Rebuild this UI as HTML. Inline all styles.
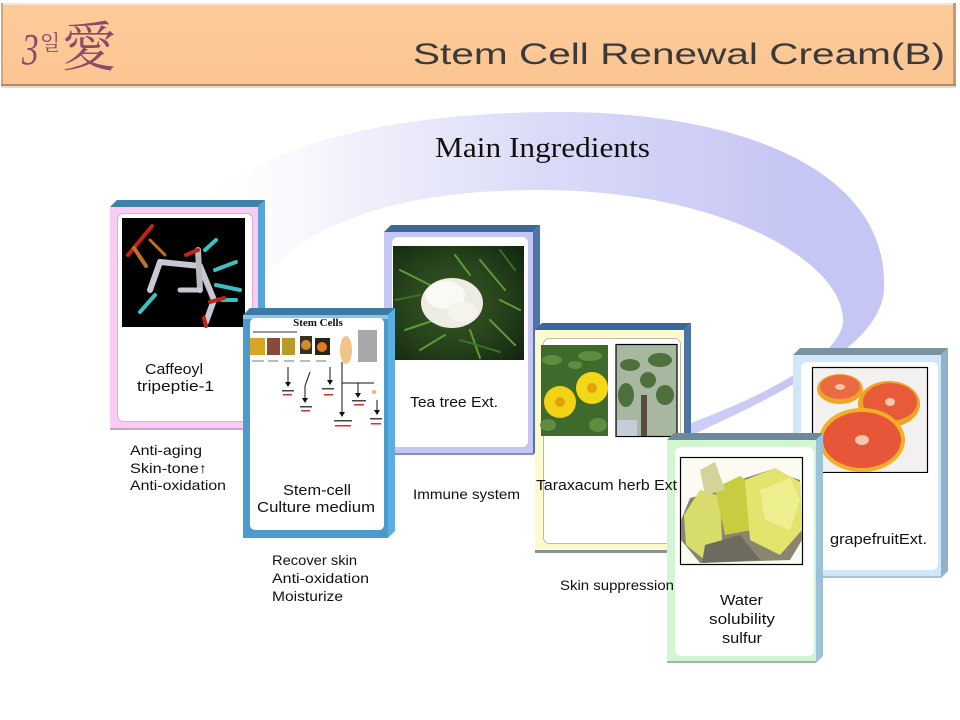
<!DOCTYPE html>
<html>
<head>
<meta charset="utf-8">
<style>
html,body{margin:0;padding:0;background:#fff;}
svg{display:block;font-family:"Liberation Sans","Noto Sans CJK KR",sans-serif;}
</style>
</head>
<body>
<svg width="960" height="720" viewBox="0 0 960 720" xmlns="http://www.w3.org/2000/svg">
<defs>
  <linearGradient id="arcg" gradientUnits="userSpaceOnUse" x1="190" y1="0" x2="790" y2="0">
    <stop offset="0" stop-color="#ffffff" stop-opacity="0"/>
    <stop offset="0.25" stop-color="#f2f2fc"/>
    <stop offset="0.6" stop-color="#dadaf8"/>
    <stop offset="1" stop-color="#c6c6f4"/>
  </linearGradient>
  <linearGradient id="hdr" x1="0" y1="0" x2="0" y2="1">
    <stop offset="0" stop-color="#fdcb9a"/>
    <stop offset="1" stop-color="#fcc592"/>
  </linearGradient>
  <radialGradient id="tea" cx="0.45" cy="0.5" r="0.7">
    <stop offset="0" stop-color="#3a5a26"/>
    <stop offset="0.6" stop-color="#24401a"/>
    <stop offset="1" stop-color="#142810"/>
  </radialGradient>
</defs>

<rect width="960" height="720" fill="#ffffff"/>

<!-- Header -->
<rect x="1" y="3" width="955" height="83" fill="url(#hdr)"/>
<rect x="1" y="3" width="955" height="2" fill="#fde6cc"/>
<rect x="1" y="3" width="2" height="83" fill="#d9a57b"/>
<rect x="953" y="3" width="3" height="83" fill="#c99a72"/>
<rect x="1" y="84" width="955" height="2" fill="#b48866"/>
<rect x="1" y="86" width="955" height="2" fill="#eadbd0"/>
<text x="22" y="64" font-family="Liberation Serif, serif" font-style="italic" font-size="44" fill="#8a4a6a" transform="translate(22 64) scale(0.75 1) translate(-22 -64)">3</text>
<text x="40" y="50" font-family="Noto Serif CJK KR, Noto Sans CJK KR, sans-serif" font-size="21" fill="#8a4a6a">일</text>
<text x="62" y="66" font-family="Noto Serif CJK SC, Noto Sans CJK SC, serif" font-size="54" fill="#8a4a6a">愛</text>
<text x="413" y="64" font-size="30" fill="#3a3a3a" textLength="532" lengthAdjust="spacingAndGlyphs">Stem Cell Renewal Cream(B)</text>

<!-- Swoosh arc -->
<path d="M 180,230 C 230,150 380,112 560,112 C 740,112 886,170 884,285 C 886,340 800,385 690,436 L 688,424 C 780,390 846,350 843,318 C 840,260 720,190 540,190 C 400,190 300,222 255,290 Z" fill="url(#arcg)"/>

<text x="435" y="157" font-family="Liberation Serif, serif" font-size="29" fill="#111" textLength="215" lengthAdjust="spacingAndGlyphs">Main Ingredients</text>

<!-- Card 1: Caffeoyl -->
<polygon points="117,200 265,200 258,207 110,207" fill="#3f82a8"/>
<polygon points="265,200 265,423 258,430 258,207" fill="#55a6d6"/>
<rect x="110" y="207" width="148" height="223" fill="#f9ccf3"/>
<rect x="110" y="428" width="148" height="2" fill="#c9a5c4"/>
<rect x="117.5" y="213.5" width="135" height="208" rx="6" fill="#fff" stroke="#d8aed4" stroke-width="1"/>
<rect x="122" y="218" width="123" height="109" fill="#000"/>
<g stroke-linecap="round" fill="none">
  <line x1="128" y1="255" x2="152" y2="226" stroke="#c02414" stroke-width="4"/>
  <line x1="134" y1="248" x2="146" y2="266" stroke="#c07022" stroke-width="4"/>
  <line x1="150" y1="240" x2="165" y2="255" stroke="#c07022" stroke-width="3"/>
  <line x1="160" y1="262" x2="200" y2="266" stroke="#c8c8d2" stroke-width="6"/>
  <line x1="160" y1="262" x2="150" y2="290" stroke="#c8c8d2" stroke-width="6"/>
  <line x1="200" y1="266" x2="214" y2="300" stroke="#c8c8d2" stroke-width="6"/>
  <line x1="214" y1="300" x2="206" y2="322" stroke="#c8c8d2" stroke-width="6"/>
  <line x1="198" y1="250" x2="200" y2="290" stroke="#b8b8c2" stroke-width="6"/>
  <line x1="180" y1="290" x2="200" y2="290" stroke="#c8c8d2" stroke-width="5"/>
  <line x1="140" y1="312" x2="155" y2="295" stroke="#3cc0c0" stroke-width="4"/>
  <line x1="215" y1="270" x2="236" y2="262" stroke="#3cc0c0" stroke-width="4"/>
  <line x1="216" y1="285" x2="240" y2="290" stroke="#3cc0c0" stroke-width="4"/>
  <line x1="222" y1="300" x2="236" y2="300" stroke="#3cc0c0" stroke-width="4"/>
  <line x1="205" y1="250" x2="216" y2="240" stroke="#3cc0c0" stroke-width="4"/>
  <line x1="186" y1="255" x2="198" y2="250" stroke="#c02414" stroke-width="4"/>
  <line x1="210" y1="302" x2="224" y2="298" stroke="#c02414" stroke-width="4"/>
  <line x1="204" y1="318" x2="206" y2="326" stroke="#c02414" stroke-width="4"/>
</g>
<text x="145" y="374" font-size="15" fill="#111" textLength="58" lengthAdjust="spacingAndGlyphs">Caffeoyl</text>
<text x="137" y="391" font-size="15" fill="#111" textLength="77" lengthAdjust="spacingAndGlyphs">tripeptie-1</text>

<!-- Card 3: Tea tree -->
<polygon points="391,225 540,225 533,232 384,232" fill="#3a6899"/>
<polygon points="540,225 540,448 533,455 533,232" fill="#4c76aa"/>
<rect x="384" y="232" width="149" height="223" fill="#c6c6f4"/>
<rect x="384" y="453" width="149" height="2" fill="#8c8cc0"/>
<rect x="392" y="237" width="136" height="210" rx="6" fill="#fff"/>
<rect x="393" y="246" width="131" height="114" fill="url(#tea)"/>
<g stroke="#5c9a3a" stroke-width="2" stroke-linecap="round">
  <line x1="400" y1="270" x2="430" y2="285"/>
  <line x1="480" y1="260" x2="505" y2="290"/>
  <line x1="490" y1="320" x2="515" y2="345"/>
  <line x1="470" y1="330" x2="480" y2="358"/>
  <line x1="405" y1="330" x2="435" y2="320"/>
  <line x1="500" y1="300" x2="520" y2="310"/>
  <line x1="420" y1="350" x2="445" y2="335"/>
  <line x1="455" y1="255" x2="470" y2="275"/>
</g>
<g stroke="#3a7028" stroke-width="2" stroke-linecap="round">
  <line x1="395" y1="300" x2="420" y2="295"/>
  <line x1="500" y1="250" x2="515" y2="270"/>
  <line x1="460" y1="340" x2="500" y2="352"/>
</g>
<ellipse cx="452" cy="303" rx="31" ry="25" fill="#ecece2"/>
<ellipse cx="445" cy="295" rx="20" ry="14" fill="#fafaf4"/>
<ellipse cx="462" cy="312" rx="15" ry="10" fill="#f4f4ea"/>
<text x="410" y="407" font-size="15" fill="#111" textLength="88" lengthAdjust="spacingAndGlyphs">Tea tree Ext.</text>

<!-- Card 2: Stem cell -->
<polygon points="250,308 395,308 388,315 243,315" fill="#3c7aa3"/>
<polygon points="395,308 395,531 388,538 388,315" fill="#5aaee0"/>
<rect x="243" y="315" width="145" height="223" fill="#4b9ccc"/>
<rect x="243" y="315" width="145" height="4" fill="#8cc6e6"/>
<rect x="250" y="318" width="134" height="212" rx="5" fill="#fff"/>
<text x="318" y="326" text-anchor="middle" font-family="Liberation Serif, serif" font-weight="bold" font-size="11" fill="#111">Stem Cells</text>
<rect x="253" y="331" width="44" height="2" fill="#999"/>
<rect x="250" y="338" width="15" height="17" fill="#d9a424"/>
<rect x="267" y="338" width="13" height="17" fill="#8a4a3a"/>
<rect x="282" y="338" width="13" height="17" fill="#b89a2a"/>
<rect x="300" y="336" width="12" height="18" fill="#3a3020"/>
<circle cx="306" cy="345" r="5" fill="#d08a30"/>
<rect x="315" y="338" width="15" height="17" fill="#2a2418"/>
<circle cx="322" cy="347" r="5" fill="#e07a28"/>
<ellipse cx="346" cy="350" rx="6" ry="14" fill="#f0c488"/>
<rect x="358" y="330" width="19" height="32" fill="#a8a8a8"/>
<g fill="#bbb">
  <rect x="252" y="360" width="12" height="2"/><rect x="268" y="360" width="10" height="2"/><rect x="284" y="360" width="10" height="2"/>
  <rect x="300" y="360" width="10" height="2"/><rect x="316" y="360" width="10" height="2"/>
</g>
<g stroke="#111" stroke-width="1" fill="none">
  <line x1="288" y1="367" x2="288" y2="382"/>
  <line x1="310" y1="372" x2="305" y2="386"/><line x1="305" y1="386" x2="305" y2="398"/>
  <line x1="330" y1="367" x2="330" y2="380"/>
  <line x1="342" y1="362" x2="342" y2="412"/>
  <line x1="342" y1="383" x2="374" y2="383"/>
  <line x1="358" y1="383" x2="358" y2="393"/>
  <line x1="377" y1="400" x2="377" y2="410"/>
</g>
<g fill="#111">
  <polygon points="285,382 291,382 288,387"/>
  <polygon points="302,398 308,398 305,403"/>
  <polygon points="327,380 333,380 330,385"/>
  <polygon points="339,412 345,412 342,417"/>
  <polygon points="355,393 361,393 358,398"/>
  <polygon points="374,410 380,410 377,415"/>
</g>
<g fill="#444">
  <rect x="282" y="390" width="12" height="1.5"/><rect x="300" y="406" width="12" height="1.5"/>
  <rect x="322" y="388" width="12" height="1.5"/><rect x="334" y="420" width="18" height="1.5"/>
  <rect x="352" y="400" width="14" height="1.5"/><rect x="370" y="418" width="12" height="1.5"/>
</g>
<g fill="#d83030">
  <rect x="283" y="394" width="9" height="1.5"/><rect x="301" y="410" width="9" height="1.5"/>
  <rect x="324" y="394" width="9" height="1.5"/><rect x="335" y="425" width="16" height="1.5"/>
  <rect x="354" y="404" width="10" height="1.5"/><rect x="371" y="423" width="10" height="1.5"/>
</g>
<circle cx="374" cy="392" r="2" fill="#f0b070"/>
<text x="283" y="495" font-size="15" fill="#111" textLength="68" lengthAdjust="spacingAndGlyphs">Stem-cell</text>
<text x="257" y="512" font-size="15" fill="#111" textLength="118" lengthAdjust="spacingAndGlyphs">Culture medium</text>

<!-- Card 4: Taraxacum -->
<polygon points="542,323 691,323 684,330 535,330" fill="#3a6899"/>
<polygon points="691,323 691,545 684,552 684,330" fill="#4a74a8"/>
<rect x="535" y="330" width="149" height="222" fill="#fdfbcd"/>
<rect x="535" y="550" width="149" height="3" fill="#8a9494"/>
<rect x="543.5" y="338.5" width="137" height="205" rx="6" fill="#fff" stroke="#a8a898" stroke-width="0.8"/>
<rect x="541" y="345" width="67" height="91" fill="#3f6a2c"/>
<g fill="#5e8c42">
  <ellipse cx="552" cy="360" rx="10" ry="5"/><ellipse cx="590" cy="356" rx="12" ry="5"/>
  <ellipse cx="548" cy="425" rx="8" ry="6"/><ellipse cx="598" cy="425" rx="9" ry="7"/>
  <ellipse cx="575" cy="365" rx="7" ry="4"/>
</g>
<circle cx="560" cy="402" r="16" fill="#f2d214"/>
<circle cx="560" cy="402" r="5" fill="#e0a408"/>
<circle cx="592" cy="388" r="16" fill="#f4d818"/>
<circle cx="592" cy="388" r="5" fill="#e0a408"/>
<rect x="616" y="344.5" width="61" height="92" fill="#a8b8a0" stroke="#000" stroke-width="1.2"/>
<g fill="#4e703c">
  <ellipse cx="630" cy="365" rx="10" ry="6"/><ellipse cx="660" cy="360" rx="12" ry="7"/>
  <ellipse cx="626" cy="395" rx="8" ry="12"/><ellipse cx="665" cy="395" rx="9" ry="10"/>
  <ellipse cx="648" cy="380" rx="8" ry="8"/>
</g>
<rect x="641" y="395" width="6" height="41" fill="#5a4c3c"/>
<rect x="617" y="420" width="20" height="16" fill="#c8ccd8"/>

<!-- Card 5: grapefruit -->
<polygon points="800,348 948,348 941,355 793,355" fill="#7a93a3"/>
<polygon points="948,348 948,571 941,578 941,355" fill="#8eb2ca"/>
<rect x="793" y="355" width="148" height="223" fill="#cfe7f7"/>
<rect x="793" y="576" width="148" height="2" fill="#a6c2d6"/>
<rect x="801" y="362" width="137" height="208" rx="6" fill="#fff"/>
<rect x="812.5" y="367.5" width="115" height="105" fill="#f3f1ef" stroke="#000" stroke-width="1.2"/>
<ellipse cx="840" cy="389" rx="23" ry="15" fill="#f2a424"/>
<ellipse cx="840" cy="387" rx="20" ry="12" fill="#ea6a44"/>
<ellipse cx="840" cy="387" rx="5" ry="3" fill="#f6c4a8"/>
<ellipse cx="889" cy="404" rx="31" ry="23" fill="#f0a424"/>
<ellipse cx="890" cy="402" rx="27" ry="19" fill="#e85a38"/>
<ellipse cx="890" cy="402" rx="5" ry="4" fill="#f6c8b0"/>
<ellipse cx="862" cy="440" rx="43" ry="32" fill="#f2b028"/>
<ellipse cx="862" cy="440" rx="39" ry="28" fill="#e8563a"/>
<ellipse cx="862" cy="440" rx="7" ry="5" fill="#f6c8b0"/>
<rect x="813" y="473" width="115" height="2" fill="#fff"/>
<text x="830" y="544" font-size="15" fill="#111" textLength="97" lengthAdjust="spacingAndGlyphs">grapefruitExt.</text>

<!-- Card 6: sulfur -->
<polygon points="674,433 823,433 816,440 667,440" fill="#6d8a9a"/>
<polygon points="823,433 823,656 816,663 816,440" fill="#9cc2da"/>
<rect x="667" y="440" width="149" height="223" fill="#d2f5d2"/>
<rect x="667" y="661" width="149" height="2" fill="#9ab8a8"/>
<rect x="675" y="447" width="139" height="209" rx="6" fill="#fff"/>
<rect x="680.5" y="457.5" width="122" height="107" fill="#fbfbf4" stroke="#000" stroke-width="1.2"/>
<polygon points="681,520 690,498 720,490 745,478 770,470 800,480 802,540 790,560 700,563 681,540" fill="#8a8470"/>
<polygon points="684,515 700,490 720,496 722,540 705,560 686,545" fill="#d8dc6a"/>
<polygon points="715,488 740,476 760,490 752,530 725,535" fill="#c8cc40"/>
<polygon points="745,480 775,468 800,482 802,530 780,555 750,540" fill="#e2e46e"/>
<polygon points="760,490 790,478 800,500 790,530 765,520" fill="#eef090"/>
<polygon points="700,470 715,462 725,490 705,495" fill="#d4d49a"/>
<polygon points="705,545 740,535 760,560 702,563" fill="#6e6a5e"/>
<text x="720" y="605" font-size="15" fill="#111" textLength="43" lengthAdjust="spacingAndGlyphs">Water</text>
<text x="709" y="624" font-size="15" fill="#111" textLength="66" lengthAdjust="spacingAndGlyphs">solubility</text>
<text x="722" y="643" font-size="15" fill="#111" textLength="40" lengthAdjust="spacingAndGlyphs">sulfur</text>

<!-- Labels drawn on top -->
<text x="536" y="490" font-size="15" fill="#111" textLength="141" lengthAdjust="spacingAndGlyphs">Taraxacum herb Ext</text>
<g font-size="14" fill="#111">
  <text x="130" y="455" textLength="72" lengthAdjust="spacingAndGlyphs">Anti-aging</text>
  <text x="130" y="473" textLength="77" lengthAdjust="spacingAndGlyphs">Skin-tone↑</text>
  <text x="130" y="490" textLength="96" lengthAdjust="spacingAndGlyphs">Anti-oxidation</text>
  <text x="272" y="565" textLength="85" lengthAdjust="spacingAndGlyphs">Recover skin</text>
  <text x="272" y="583" textLength="97" lengthAdjust="spacingAndGlyphs">Anti-oxidation</text>
  <text x="272" y="601" textLength="71" lengthAdjust="spacingAndGlyphs">Moisturize</text>
  <text x="413" y="499" textLength="107" lengthAdjust="spacingAndGlyphs">Immune system</text>
  <text x="560" y="590" textLength="114" lengthAdjust="spacingAndGlyphs">Skin suppression</text>
</g>
</svg>
</body>
</html>
